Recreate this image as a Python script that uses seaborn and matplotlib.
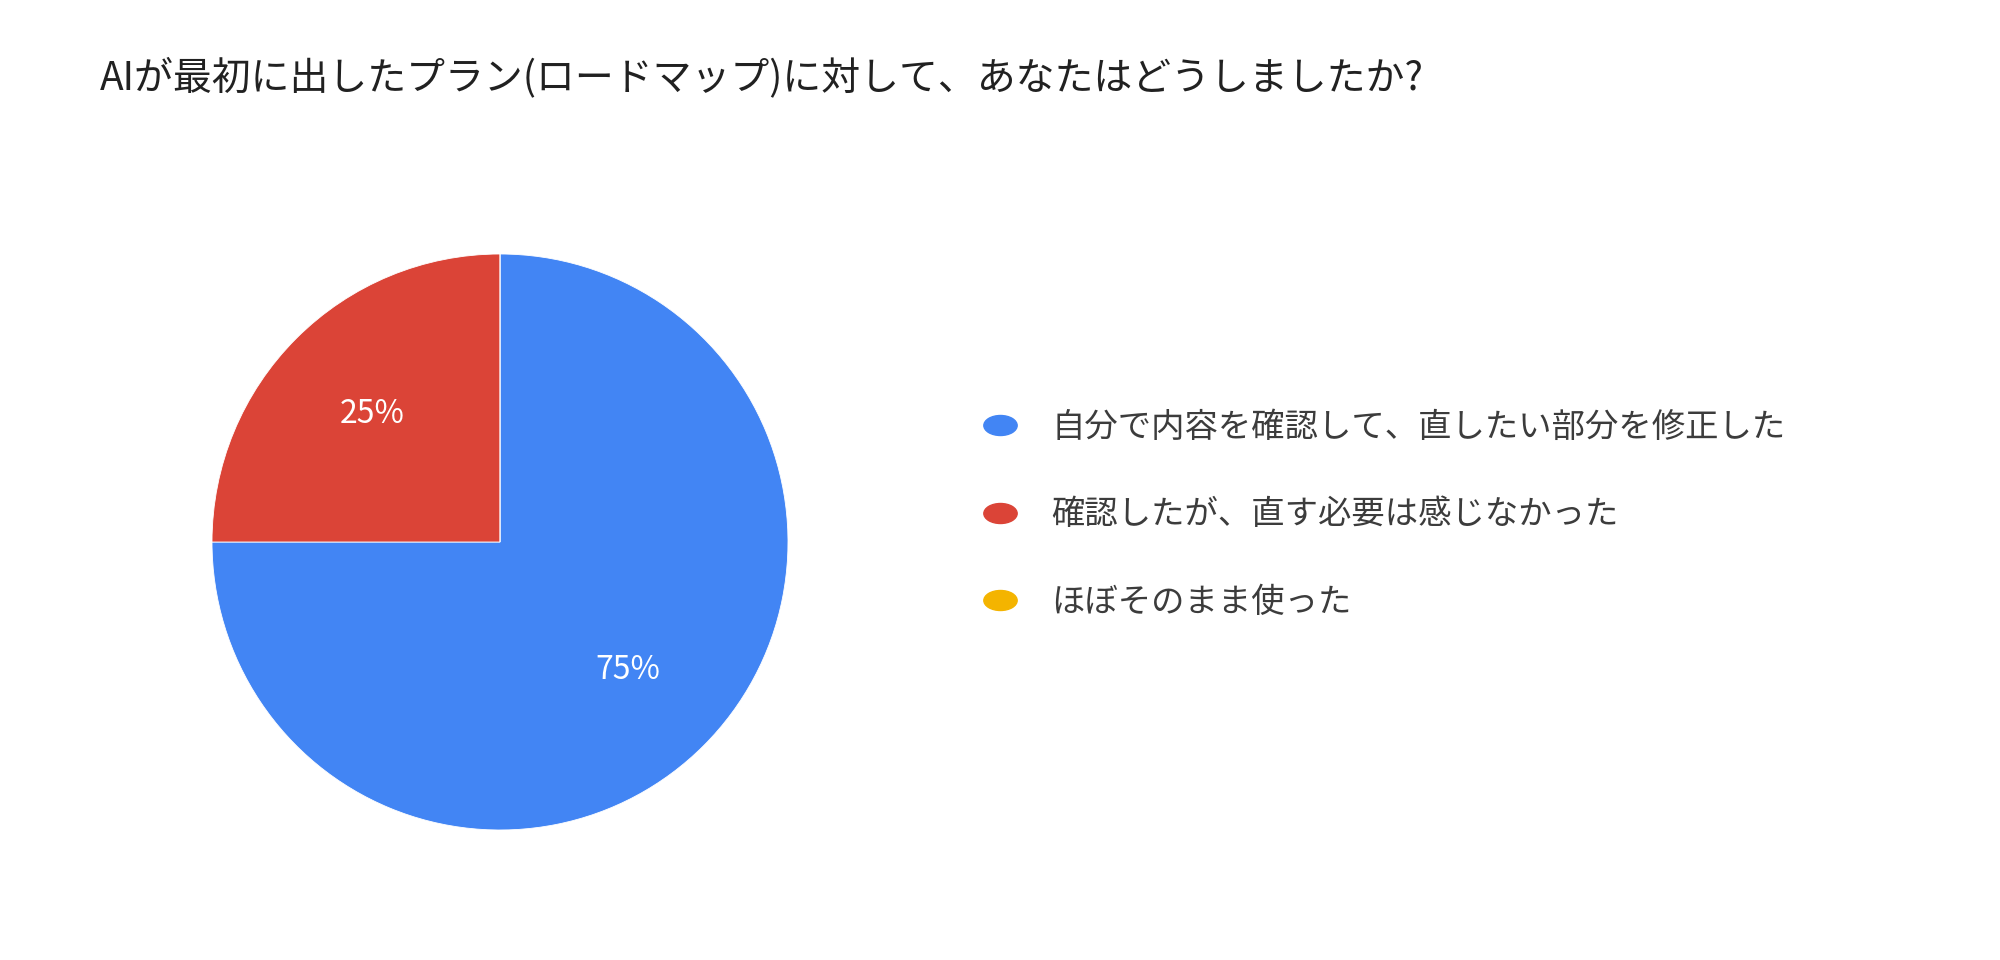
import numpy as np
import matplotlib
matplotlib.use('Agg')
import matplotlib.pyplot as plt
from matplotlib.lines import Line2D
from matplotlib.path import Path
from matplotlib.transforms import Affine2D
import seaborn as sns

# Data
TITLE = 'AIが最初に出したプラン(ロードマップ)に対して、あなたはどうしましたか?'
labels = [
    '自分で内容を確認して、直したい部分を修正した',
    '確認したが、直す必要は感じなかった',
    'ほぼそのまま使った',
]
counts = [3, 1, 0]
colors = ['#4285F4', '#DB4437', '#F4B400']

sns.set_theme(style='white')
plt.rcParams['font.family'] = ['Noto Sans CJK JP', 'DejaVu Sans']

fig = plt.figure(figsize=(20, 9.6), dpi=100)
fig.patch.set_facecolor('white')

# pie axes: centre (500, 542) px, radius 288 px
W, H = 2000, 960
cx, cy, r = 500, 542, 288
ax = fig.add_axes([(cx - r) / W, (H - cy - r) / H, 2 * r / W, 2 * r / H])

palette = sns.color_palette(colors)


def pct_label(p):
    return '' if p < 0.5 else f'{p:.0f}%'


wedges, texts, autotexts = ax.pie(
    counts,
    colors=palette,
    startangle=90,
    counterclock=False,
    autopct=pct_label,
    pctdistance=0.63,
    wedgeprops=dict(edgecolor='white', linewidth=0.6),
    textprops=dict(color='white', fontsize=23),
)
ax.set_xlim(-1, 1)
ax.set_ylim(-1, 1)
ax.set_aspect('equal')
ax.axis('off')

# title
fig.text(100 / W, 1 - 78 / H, TITLE, ha='left', va='center',
         fontsize=28, color='#212121')

# legend with oval markers
oval = Path.unit_circle().transformed(Affine2D().scale(1.0, 0.6))
handles = [Line2D([], [], marker=oval, linestyle='none', markersize=24,
                  markerfacecolor=c, markeredgecolor=c) for c in palette]
leg = fig.legend(handles, labels, loc='upper left',
                 bbox_to_anchor=(983 / W, 1 - 410 / H),
                 frameon=False, fontsize=24, labelcolor='#3c3c3c',
                 handlelength=1.0, handletextpad=1.05, labelspacing=1.57,
                 borderaxespad=0, borderpad=0)

fig.savefig('out.png', dpi=100, facecolor='white')
